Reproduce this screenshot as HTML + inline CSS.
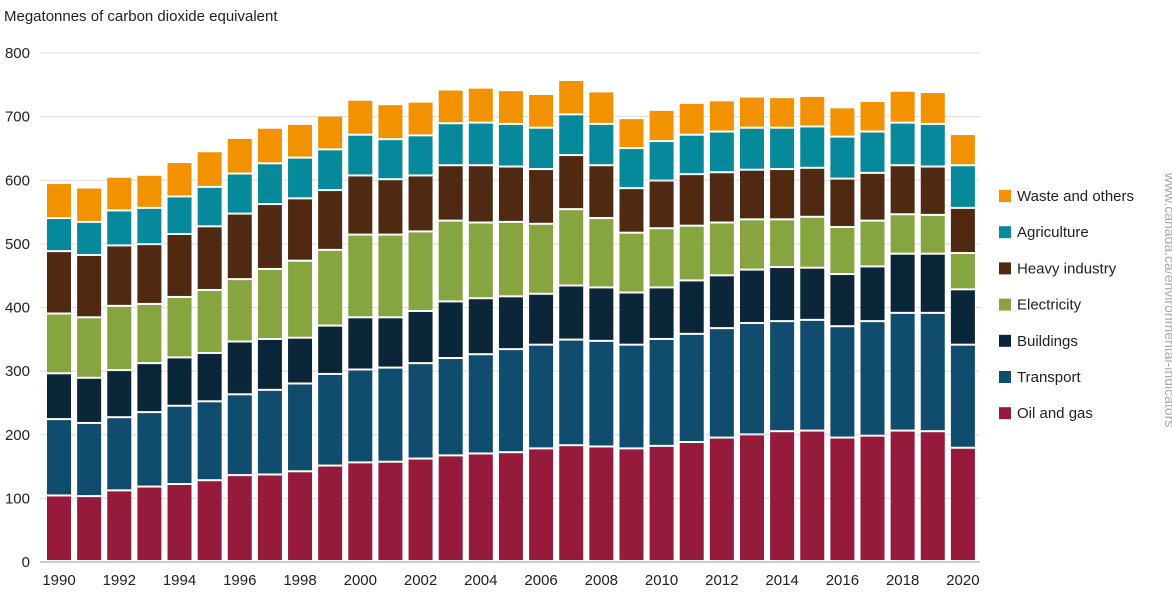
<!DOCTYPE html>
<html><head><meta charset="utf-8"><style>
body{margin:0;background:#fff;font-family:"Liberation Sans",Arial,sans-serif;}
svg text{font-family:"Liberation Sans",Arial,sans-serif;}
</style></head><body>
<svg id="chart" width="1172" height="605">
<text x="4" y="21" font-size="15" fill="#222">Megatonnes of carbon dioxide equivalent</text>
<g id="grid"></g><g id="bars"></g><g id="xaxis"></g><g id="legend"></g>
<text transform="translate(1165,300) rotate(90)" text-anchor="middle" font-size="14" fill="#aaa">www.canada.ca/environmental-indicators</text>
</svg>
<script>
const years=[1990,1991,1992,1993,1994,1995,1996,1997,1998,1999,2000,2001,2002,2003,2004,2005,2006,2007,2008,2009,2010,2011,2012,2013,2014,2015,2016,2017,2018,2019,2020];
const oilGas=[103,102,111,117,121,127,135,136,141,150,155,156,161,166,169,171,177,182,180,177,181,187,194,199,204,205,194,197,205,204,178];
const transport=[120,115,115,117,123,124,127,133,138,144,146,148,150,153,156,162,163,166,166,163,168,170,172,175,173,174,175,180,185,186,162];
const buildings=[72,71,74,77,76,76,83,80,72,76,82,79,82,89,88,83,80,85,84,82,81,84,83,84,85,82,82,86,93,93,87];
const electricity=[94,95,101,93,95,99,98,110,121,119,130,130,125,127,119,117,110,120,109,94,93,86,83,79,75,80,74,72,62,61,57];
const heavyIndustry=[98,98,95,94,99,100,103,102,98,94,93,87,88,87,90,87,86,85,83,70,75,81,79,78,79,77,76,75,77,76,71];
const agriculture=[52,52,55,57,59,62,63,64,64,64,64,63,63,66,67,67,65,64,65,63,62,62,64,66,65,65,66,65,67,67,67];
const waste=[55,54,53,52,54,56,56,56,53,53,55,55,53,53,55,53,53,54,51,47,49,50,49,49,48,48,46,48,50,50,49];
const seriesNames=["Oil and gas","Transport","Buildings","Electricity","Heavy industry","Agriculture","Waste and others"];
const seriesData=[oilGas,transport,buildings,electricity,heavyIndustry,agriculture,waste];
const colors=["#951a3b","#0f4c6e","#0b2639","#86a43f","#4f2912","#06899a","#f39200"];
const yTicks=[0,100,200,300,400,500,600,700,800];
const NS="http://www.w3.org/2000/svg";
const y=v=>562-v*509/800;
const x=yr=>59+(yr-1990)*30.13;
function mk(tag,attrs,parent){const e=document.createElementNS(NS,tag);for(const k in attrs)e.setAttribute(k,attrs[k]);parent.appendChild(e);return e;}
const grid=document.getElementById('grid');
yTicks.forEach(t=>{
 const l=mk('line',{x1:40,x2:980,y1:y(t),y2:y(t),stroke:t===0?'#999':'#ddd','stroke-width':1},grid);
 
 
 const tx=mk('text',{x:30,y:y(t)+5,'text-anchor':'end','font-size':15,fill:'#222'},grid);
 tx.textContent=t;
 
 
});
const bars=document.getElementById('bars');
years.forEach((yr,i)=>{
 let cum=0;
 seriesData.forEach((s,j)=>{
  const v=s[i];const top=y(cum+v),bot=y(cum);
  const r=mk('rect',{x:x(yr)-12,y:top,width:24,height:Math.max(0,bot-top-2),fill:colors[j]},bars);
  
  
  cum+=v;
 });
});
const xa=document.getElementById('xaxis');
years.forEach(yr=>{if(yr%2===0){
 const t=mk('text',{x:x(yr),y:585,'text-anchor':'middle','font-size':15,fill:'#222'},xa);
 t.textContent=yr;
 
 
}});
const lg=document.getElementById('legend');
for(let j=6;j>=0;j--){
 const yy=197+(6-j)*36.2;
 const g=mk('g',{},lg);
 
 
 mk('rect',{x:999,y:yy-7,width:12,height:12,fill:colors[j]},g);
 const t=mk('text',{x:1017,y:yy+4,'font-size':15,fill:'#222'},g);
 t.textContent=seriesNames[j];
}
</script>
</body></html>
